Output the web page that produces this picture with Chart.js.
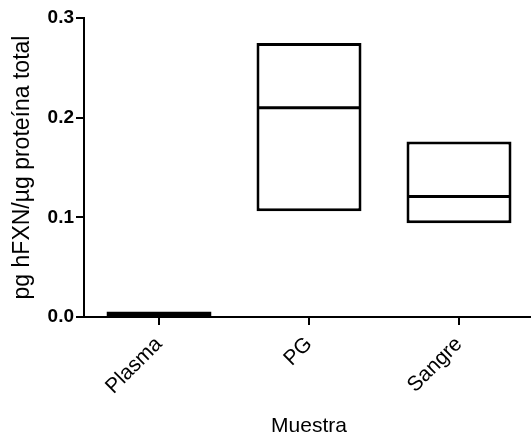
<!DOCTYPE html>
<html>
<head>
<meta charset="utf-8">
<script src="https://cdn.jsdelivr.net/npm/chart.js@4.4.1/dist/chart.umd.min.js"></script>
<style>
  html, body { margin: 0; padding: 0; background: #fff; overflow: hidden; width: 531px; height: 437px; }
  #wrap { position: relative; width: 534px; height: 437px; }
</style>
</head>
<body>
<div id="wrap"><canvas id="chart"></canvas></div>
<script>
// sample groups
const categories = ["Plasma", "PG", "Sangre"];
// min / max of each group (pg hFXN / µg total protein)
const lowValues = [0.0, 0.106, 0.094];
const highValues = [0.0055, 0.275, 0.176];
const medianValues = [0.003, 0.21, 0.121];
const yTicks = [0.0, 0.1, 0.2, 0.3];

const fontFamily = "'Liberation Sans', Arial, sans-serif";

const ranges = categories.map((c, i) => [lowValues[i], highValues[i]]);

const config = {
    type: 'bar',
    data: {
        labels: categories,
        datasets: [
            {
                type: 'bar',
                label: 'Rango',
                data: ranges,
                backgroundColor: '#fff',
                borderColor: '#000',
                borderWidth: 3,
                borderSkipped: false,
                categoryPercentage: 1.0,
                barPercentage: 0.7,
                order: 2
            },
            {
                type: 'line',
                label: 'Mediana',
                data: medianValues,
                showLine: false,
                pointStyle: 'line',
                pointRadius: 52,
                pointHoverRadius: 52,
                pointBorderWidth: 3,
                borderColor: '#000',
                backgroundColor: '#000',
                order: 1
            }
        ]
    },
    options: {
        animation: false,
        responsive: true,
        maintainAspectRatio: false,
        layout: { autoPadding: false, padding: { top: 18, right: 0, bottom: 0, left: 0 } },
        plugins: {
            legend: { display: false },
            tooltip: { enabled: false }
        },
        scales: {
            x: {
                offset: true,
                grid: {
                    offset: false,
                    drawOnChartArea: false,
                    drawTicks: true,
                    tickLength: 8,
                    color: '#000',
                    lineWidth: 2
                },
                border: { display: true, color: '#000', width: 2 },
                ticks: {
                    color: '#000',
                    minRotation: 45,
                    maxRotation: 45,
                    padding: 7,
                    font: { family: fontFamily, size: 21 }
                },
                title: {
                    display: true,
                    text: 'Muestra',
                    color: '#000',
                    padding: { top: 0, bottom: 0 },
                    font: { family: fontFamily, size: 21, lineHeight: 1.0 }
                },
                afterFit: function(scale) { scale.height = 120; }
            },
            y: {
                min: 0,
                max: 0.3,
                afterBuildTicks: function(scale) {
                    scale.ticks = yTicks.map(v => ({ value: v }));
                },
                grid: {
                    drawOnChartArea: false,
                    drawTicks: true,
                    tickLength: 8,
                    color: '#000',
                    lineWidth: 2
                },
                border: { display: true, color: '#000', width: 2 },
                ticks: {
                    color: '#000',
                    padding: 2,
                    font: { family: fontFamily, size: 19, weight: 'bold' },
                    callback: function(v) { return Number(v).toFixed(1); }
                },
                title: {
                    display: true,
                    text: 'pg hFXN/µg proteína total',
                    color: '#000',
                    padding: { top: 9, bottom: 0 },
                    font: { family: fontFamily, size: 23 }
                },
                afterFit: function(scale) { scale.width = 84; }
            }
        }
    }
};

new Chart(document.getElementById('chart'), config);
</script>
</body>
</html>
